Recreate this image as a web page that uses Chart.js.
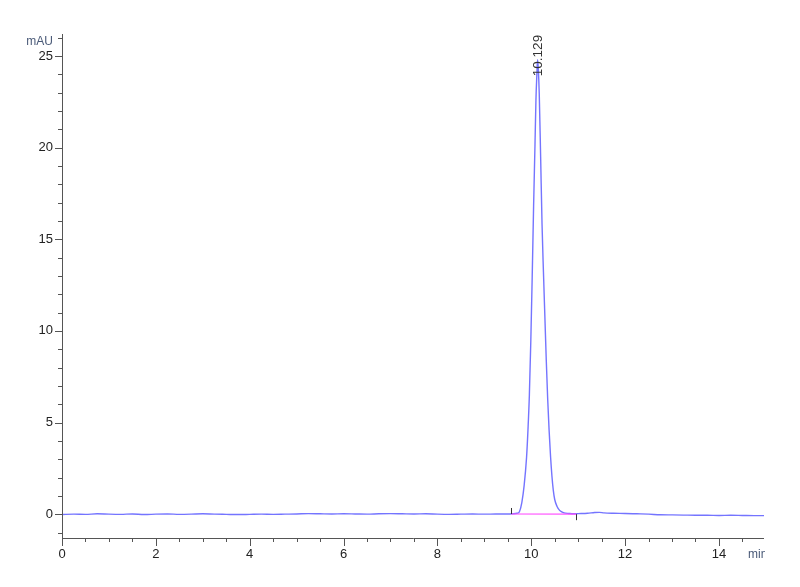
<!DOCTYPE html>
<html>
<head>
<meta charset="utf-8">
<script src="https://cdn.jsdelivr.net/npm/chart.js@4.4.1/dist/chart.umd.min.js"></script>
<style>
  html, body { margin: 0; padding: 0; background: #fff; }
  #wrap { width: 800px; height: 587px; }
</style>
</head>
<body>
<div id="wrap"><canvas id="chrom"></canvas></div>
<script>
// retention time (min) and signal (mAU)
const times = [
  0, 0.25, 0.5, 0.75, 1, 1.25, 1.5, 1.75, 2, 2.25, 2.5, 2.75, 3, 3.25, 3.5, 3.75,
  4, 4.25, 4.5, 4.75, 5, 5.25, 5.5, 5.75, 6, 6.25, 6.5, 6.75, 7, 7.25, 7.5, 7.75,
  8, 8.25, 8.5, 8.75, 9, 9.25, 9.5, 9.6, 9.7, 9.75, 9.8, 9.85, 9.9, 9.93, 9.96, 9.99,
  10.02, 10.05, 10.08, 10.1, 10.12, 10.135, 10.15, 10.17, 10.2, 10.23, 10.26, 10.29,
  10.32, 10.35, 10.38, 10.41, 10.44, 10.47, 10.5, 10.55, 10.6, 10.65, 10.7, 10.8, 10.9,
  11, 11.2, 11.35, 11.45, 11.55, 11.75, 12, 12.25, 12.5, 12.75, 13, 13.25, 13.5, 13.75,
  14, 14.25, 14.5, 14.75, 14.96
];
const signal = [
  -0.02, 0.0, -0.01, 0.02, 0.0, -0.01, 0.01, -0.02, 0.0, 0.01, -0.01, 0.0, 0.02, 0.0, -0.01, -0.02,
  -0.01, 0.0, -0.01, 0.0, 0.01, 0.03, 0.02, 0.01, 0.02, 0.01, 0.0, 0.02, 0.03, 0.02, 0.01, 0.02,
  0.0, -0.01, 0.0, 0.01, 0.0, 0.01, 0.01, 0.02, 0.05, 0.15, 0.65, 1.6, 3.1, 4.6, 6.5, 9.4,
  12.9, 16.8, 20.2, 22.6, 24.0, 24.8, 24.3, 23.0, 19.5, 15.8, 13.2, 10.8,
  8.4, 6.3, 4.6, 3.2, 2.1, 1.3, 0.8, 0.42, 0.22, 0.12, 0.07, 0.04, 0.02,
  0.03, 0.05, 0.09, 0.1, 0.07, 0.05, 0.04, 0.02, 0.0, -0.03, -0.04, -0.05, -0.06, -0.06,
  -0.07, -0.06, -0.07, -0.08, -0.08
];

// integration baseline of the peak
const baseTimes = [9.57, 10.96];
const baseValues = [0.01, 0.0];

const peakTime = 10.129;
const peakLabel = '10.129';
const peakLabelStart = 23.9;

const xTicks = [];
for (let t = 0; t <= 14.5; t += 0.5) xTicks.push(t);
const yTicks = [];
for (let v = -1; v <= 26; v++) yTicks.push(v);

const labelFont = "'Liberation Sans Narrow', 'Liberation Sans', Arial, sans-serif";

const axisPlugin = {
  id: 'axisPlugin',
  afterDraw(chart) {
    const { ctx, chartArea: a, scales: { x, y } } = chart;
    ctx.save();
    ctx.strokeStyle = '#555';
    ctx.lineWidth = 1;
    ctx.beginPath();
    ctx.moveTo(a.left + 0.5, a.top);
    ctx.lineTo(a.left + 0.5, a.bottom + 0.5);
    ctx.lineTo(a.right, a.bottom + 0.5);
    y.ticks.forEach(t => {
      const py = Math.round(y.getPixelForValue(t.value)) + 0.5;
      const len = t.value % 5 === 0 ? 7 : 4;
      ctx.moveTo(a.left - len, py);
      ctx.lineTo(a.left, py);
    });
    x.ticks.forEach(t => {
      const px = Math.round(x.getPixelForValue(t.value)) + 0.5;
      const len = t.value % 2 === 0 ? 8 : 4;
      ctx.moveTo(px, a.bottom);
      ctx.lineTo(px, a.bottom + len);
    });
    ctx.stroke();

    // start / end marks of the integration
    ctx.strokeStyle = '#333';
    ctx.beginPath();
    const sx = Math.round(x.getPixelForValue(baseTimes[0])) + 0.5;
    const sy = y.getPixelForValue(baseValues[0]);
    ctx.moveTo(sx, sy - 6); ctx.lineTo(sx, sy);
    const ex = Math.round(x.getPixelForValue(baseTimes[1])) + 0.5;
    const ey = y.getPixelForValue(baseValues[1]);
    ctx.moveTo(ex, ey); ctx.lineTo(ex, ey + 6);
    ctx.stroke();

    // retention time label
    ctx.save();
    ctx.translate(x.getPixelForValue(peakTime) + 1, y.getPixelForValue(peakLabelStart));
    ctx.rotate(-Math.PI / 2);
    ctx.fillStyle = '#333';
    ctx.font = "13.5px 'Liberation Sans', Arial, sans-serif";
    ctx.textAlign = 'left';
    ctx.textBaseline = 'middle';
    ctx.fillText(peakLabel, 0, 0);
    ctx.restore();

    // unit labels
    ctx.fillStyle = '#4a5a78';
    ctx.font = '12px ' + labelFont;
    ctx.textAlign = 'right';
    ctx.textBaseline = 'middle';
    ctx.fillText('mAU', a.left - 9, a.top + 8);
    ctx.beginPath();
    ctx.rect(0, 0, a.right + 1, chart.height);
    ctx.clip();
    ctx.textAlign = 'left';
    ctx.fillText('min', a.right - 16, a.bottom + 17);
    ctx.restore();
  }
};

new Chart(document.getElementById('chrom'), {
  type: 'line',
  data: {
    datasets: [
      {
        data: baseTimes.map((t, i) => ({ x: t, y: baseValues[i] })),
        borderColor: '#ff4dff',
        borderWidth: 1.2,
        pointRadius: 0,
        tension: 0
      },
      {
        data: times.map((t, i) => ({ x: t, y: signal[i] })),
        borderColor: 'rgba(70, 70, 255, 0.75)',
        borderWidth: 1.4,
        pointRadius: 0,
        cubicInterpolationMode: 'monotone'
      }
    ]
  },
  options: {
    responsive: true,
    maintainAspectRatio: false,
    animation: false,
    layout: { padding: { top: 34, right: 36, left: 0, bottom: 0 } },
    plugins: { legend: { display: false }, tooltip: { enabled: false } },
    scales: {
      x: {
        type: 'linear',
        min: 0,
        max: 14.96,
        afterBuildTicks: s => { s.ticks = xTicks.map(v => ({ value: v })); },
        afterFit: s => { s.height = 49; },
        grid: { display: false, drawTicks: true, tickLength: 8 },
        border: { display: false },
        ticks: {
          autoSkip: false,
          maxRotation: 0,
          padding: 1,
          color: '#222',
          font: { family: labelFont, size: 13 },
          callback: v => (v % 2 === 0 ? String(v) : '')
        }
      },
      y: {
        type: 'linear',
        min: -1.3,
        max: 26.2,
        afterBuildTicks: s => { s.ticks = yTicks.map(v => ({ value: v })); },
        afterFit: s => { s.width = 62; },
        grid: { display: false, drawTicks: true, tickLength: 7 },
        border: { display: false },
        ticks: {
          autoSkip: false,
          padding: 2,
          color: '#222',
          font: { family: labelFont, size: 13 },
          callback: v => (v % 5 === 0 ? String(v) : '')
        }
      }
    }
  },
  plugins: [axisPlugin]
});
</script>
</body>
</html>
